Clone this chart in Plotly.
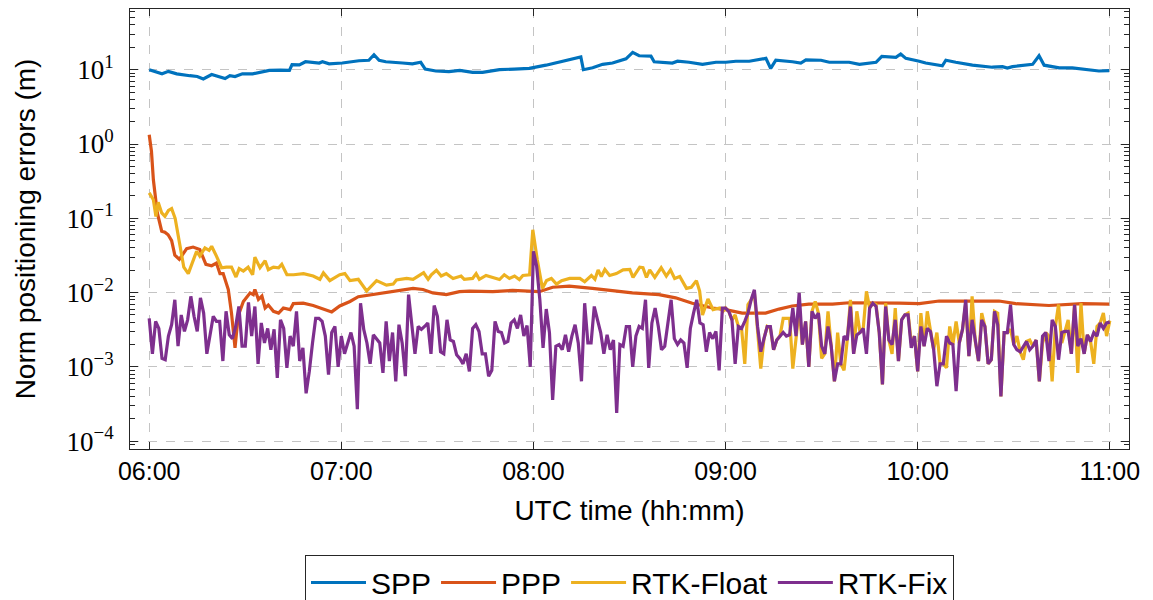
import pandas as pd
import plotly.graph_objects as go

# ---------------- data (minutes after 06:00 UTC, error in metres) ----------------
spp_t = [0, 2, 4, 6, 8.6, 12.7, 15, 16.9, 19.5, 23.7, 25.2, 26.8, 29.1, 32.3, 35, 37.5, 41, 43.8,
         44.6, 46.9, 48.8, 53.1, 54.1, 56.2, 60.3, 63, 65.5, 68.6, 70.2, 71.8, 73.9, 79.1, 82.2,
         84.8, 86.2, 89.5, 93.6, 97, 101, 104.1, 109.4, 114, 118.7, 123.9, 128.1, 132.2, 134.8,
         135.6, 138.5, 141.6, 144.7, 148.9, 151, 153, 156.7, 157.7, 163.4, 165, 168.6, 172.8, 177,
         180.1, 183.2, 187.4, 192.6, 194.1, 195.7, 200.9, 203.5, 205.1, 209.8, 212.4, 218.6, 221.8,
         227, 228.8, 233.2, 234.7, 236.3, 240.5, 242.5, 247.7, 248.8, 251.9, 257.1, 263.3, 266.5,
         268, 269.6, 275.9, 277.9, 279.5, 284.2, 288.3, 292.5, 296.6, 299.8]
spp_v = [10.0, 9.3, 8.8, 9.5, 8.8, 8.3, 8.1, 7.5, 8.6, 7.6, 8.3, 8.1, 8.8, 8.8, 9.3, 9.8, 9.9, 9.8,
         11.7, 11.6, 12.8, 12.3, 12.8, 12.0, 12.3, 12.8, 13.2, 13.4, 15.9, 13.4, 12.8, 12.3, 12.0,
         12.6, 10.2, 9.6, 9.4, 9.8, 9.2, 9.2, 10.0, 10.2, 10.4, 11.5, 12.8, 14.2, 14.8,
         10.0, 10.6, 11.8, 12.3, 14.0, 17.1, 15.4, 15.2, 12.8, 12.3, 13.0, 12.6, 11.8, 12.6,
         12.6, 13.0, 13.0, 14.2, 10.4, 13.4, 12.8, 12.3, 13.6, 13.4, 12.6, 12.6, 11.8,
         12.6, 15.1, 14.7, 16.3, 14.2, 13.0, 12.3, 11.3, 13.4, 12.6, 11.5, 10.8, 11.0,
         10.5, 11.0, 11.8, 15.4, 11.5, 10.6, 10.6, 10.2, 9.6, 9.7]

ppp_t = [0, 0.7, 1.3, 2.5, 3.9, 4.9, 5.9, 7.0, 8.0, 9.4, 11.7, 13.7, 15.8, 17.7, 19.5, 21.0, 22.1,
         23.1, 24.7, 25.7, 26.8, 27.8, 29.4, 31.5, 32.5, 33, 34.1, 35.2, 36.2, 37.2, 38.8, 40.4,
         41.9, 44, 45, 48.1, 51.2, 54.3, 57, 59.5, 62.7, 65.3, 69.9, 74.1, 78.2, 82.4, 85.5, 88.6,
         92.8, 96.9, 100, 107.3, 113.5, 121.8, 126, 131.2, 138.4, 144.7, 150.9, 159.2, 164.4,
         169.6, 175.9, 180, 185.2, 192.5, 196.7, 200.8, 206, 213.4, 218.6, 234.2, 240.5, 246.7,
         257.1, 265.4, 270.6, 281, 291.4, 299.8]
ppp_v = [1.33, 0.8, 0.33, 0.12, 0.067, 0.065, 0.060, 0.050, 0.032, 0.028, 0.039, 0.041, 0.038,
         0.024, 0.023, 0.025, 0.018, 0.018, 0.011, 0.0053, 0.0018, 0.0049, 0.0076, 0.0099, 0.0094,
         0.011, 0.0081, 0.009, 0.0062, 0.0068, 0.0056, 0.0053, 0.0062, 0.0059, 0.0071, 0.0072,
         0.0067, 0.006, 0.0055, 0.0066, 0.0076, 0.0088, 0.0094, 0.0100, 0.0107, 0.0114, 0.011,
         0.0099, 0.0094, 0.0103, 0.0105, 0.0103, 0.0107, 0.0103, 0.0118, 0.0122, 0.0114, 0.0107,
         0.0099, 0.0094, 0.0085, 0.0072, 0.0062, 0.0059, 0.0053, 0.0053, 0.006, 0.0066, 0.0070,
         0.0070, 0.0073, 0.0072, 0.0071, 0.0077, 0.0078, 0.0077, 0.0071, 0.0067, 0.0071, 0.0070]

float_t = [0, 1.3, 2.1, 2.8, 3.9, 4.9, 6.0, 7.0, 8.1, 9.6, 10.8, 12.2, 13.2, 14.8, 15.8, 17.4, 18.7,
           19.5, 21.0, 22.6, 24.1, 25.7, 27.1, 28.1, 29.4, 30.9, 32.3, 33.0, 34.6, 36.2, 37.2, 38.8,
           40.4, 41.4, 43.0, 45.1, 48.2, 51.2, 53.3, 54.4, 56.4, 59.5, 61.1, 62.7, 65.3, 67.9, 71.0,
           74.1, 76.2, 77.2, 80.4, 82.4, 84.0, 85.7, 87.1, 88.1, 89.7, 91.2, 92.8, 94.9, 97.4, 98.4,
           101.0, 102.1, 103.1, 105.2, 107.3, 109.4, 110.9, 112.5, 114.1, 115.6, 116.7, 118.8,
           119.8, 121.2, 122.8, 124.1, 125.6, 127.2, 128.8, 131.3, 134.5, 136.0, 138.1, 139.2,
           140.2, 141.2, 142.3, 143.8, 145.9, 148.0, 150.1, 151.1, 153.2, 154.2, 155.3, 156.3,
           157.9, 159.9, 161.5, 162.8, 164.1, 165.7, 167.8, 169.3, 170.9, 171.9, 172.8, 174.5,
           176.1, 178.2, 179.2] + list(range(180, 301))
float_v = [0.22, 0.178, 0.106, 0.165, 0.118, 0.106, 0.128, 0.135, 0.10, 0.046, 0.022, 0.018, 0.024,
           0.036, 0.031, 0.040, 0.037, 0.042, 0.031, 0.0216, 0.022, 0.022, 0.0162, 0.021, 0.0195,
           0.022, 0.0174, 0.030, 0.0216, 0.0268, 0.0203, 0.022, 0.0216, 0.024, 0.0174, 0.0174,
           0.018, 0.0167, 0.0151, 0.0184, 0.0145, 0.0174, 0.018, 0.0145, 0.0151, 0.0105, 0.0145,
           0.0126, 0.013, 0.0148, 0.0155, 0.0151, 0.0167, 0.0185, 0.0151, 0.0174, 0.020, 0.0167,
           0.018, 0.0155, 0.0167, 0.0151, 0.0155, 0.018, 0.0151, 0.017, 0.016, 0.015, 0.0174,
           0.0155, 0.0167, 0.015, 0.017, 0.0174, 0.07, 0.0276, 0.0114, 0.0145, 0.0155, 0.013,
           0.0145, 0.0155, 0.0155, 0.014, 0.017, 0.0151, 0.0202, 0.0165, 0.0205, 0.017, 0.018,
           0.0202, 0.0205, 0.016, 0.022, 0.0216, 0.016, 0.0202, 0.016, 0.0216, 0.0167, 0.0202,
           0.0155, 0.0165, 0.0114, 0.0118, 0.0145, 0.0105, 0.005, 0.0082, 0.0059, 0.0062, 0.0056,
           # 180 .. 300, one per minute
           0.0062, 0.0056, 0.0043, 0.0050, 0.0035, 0.0033, 0.0011, 0.0069, 0.0080, 0.0100,
           0.0035, 0.00095, 0.0024, 0.0035, 0.0033, 0.0017, 0.0023, 0.0026, 0.0045, 0.0045,
           0.0045, 0.00095, 0.0026, 0.0060, 0.0020, 0.0041, 0.0010, 0.0056, 0.0076, 0.0053,
           0.0013, 0.0015, 0.0056, 0.0019, 0.00064, 0.0029, 0.0011, 0.0009, 0.0023, 0.0080,
           0.0015, 0.0056, 0.0029, 0.0033, 0.0104, 0.0062, 0.0072, 0.0069, 0.0029, 0.00058,
           0.0072, 0.0023, 0.0015, 0.0062, 0.0012, 0.0043, 0.0050, 0.0053, 0.0021, 0.0026,
           0.00087, 0.0053, 0.0019, 0.0056, 0.0030, 0.0017, 0.0029, 0.0011, 0.0011, 0.00097,
           0.0035, 0.0020, 0.0041, 0.0021, 0.0032, 0.0072, 0.0014, 0.0089, 0.0022, 0.0012,
           0.0053, 0.0035, 0.0011, 0.00125, 0.0056, 0.0053, 0.00040, 0.0029, 0.0029, 0.0032,
           0.0020, 0.0026, 0.0016, 0.00125, 0.0022, 0.0023, 0.0019, 0.0023, 0.00064, 0.0021,
           0.0029, 0.0026, 0.00064, 0.0035, 0.0069, 0.0021, 0.0030, 0.0043, 0.0015, 0.0069,
           0.00083, 0.0072, 0.0015, 0.0027, 0.0022, 0.0011, 0.0035, 0.0039, 0.0053, 0.0026,
           0.0042]

fix_t = list(range(0, 301))
fix_v = [0.0045, 0.0015, 0.0041, 0.0033, 0.0013, 0.00125, 0.0026, 0.0037, 0.0080, 0.0019,
         0.0050, 0.0030, 0.0043, 0.0089, 0.0048, 0.0030, 0.0085, 0.0053, 0.0015, 0.0026,
         0.0048, 0.0041, 0.0041, 0.0012, 0.0056, 0.0027, 0.0024, 0.0035, 0.0065, 0.0019,
         0.0019, 0.0074, 0.0026, 0.0065, 0.0011, 0.0039, 0.0021, 0.0033, 0.0017, 0.0032,
         0.00071, 0.0043, 0.0033, 0.00097, 0.0026, 0.0019, 0.0056, 0.0012, 0.0018, 0.00044,
         0.00087, 0.0021, 0.0045, 0.0045, 0.0041, 0.0026, 0.00079, 0.0029, 0.0035, 0.0010,
         0.0026, 0.0015, 0.0021, 0.0029, 0.0019, 0.00027, 0.0072, 0.0032, 0.0021, 0.0011,
         0.0027, 0.0024, 0.0021, 0.00083, 0.0041, 0.0012, 0.0029, 0.00064, 0.0037, 0.0021,
         0.00075, 0.0094, 0.0035, 0.0015, 0.0035, 0.0032, 0.0035, 0.0039, 0.0015, 0.0067,
         0.0048, 0.0016, 0.0015, 0.0043, 0.0023, 0.0022, 0.00146, 0.0013, 0.0011, 0.0015,
         0.00087, 0.0033, 0.0037, 0.0030, 0.0015, 0.0015, 0.00075, 0.0009, 0.0041, 0.0030,
         0.0029, 0.0021, 0.0022, 0.0039, 0.0043, 0.0033, 0.0050, 0.0026, 0.0036, 0.0010,
         0.036, 0.0226, 0.0080, 0.0018, 0.0060, 0.0029, 0.00036, 0.0019, 0.0020, 0.0017,
         0.0027, 0.0016, 0.0026, 0.0037, 0.0021, 0.00064, 0.0072, 0.0021, 0.0021, 0.0065,
         0.0043, 0.0029, 0.0015, 0.0027, 0.0017, 0.0023, 0.00024, 0.0020, 0.0019, 0.0035,
         0.0035, 0.0010, 0.0026, 0.0035, 0.0033, 0.0080, 0.00097, 0.0039, 0.0062, 0.0035,
         0.0017, 0.0019, 0.0039, 0.0080, 0.0024, 0.0020, 0.0023, 0.0021, 0.00097, 0.0033,
         0.0053, 0.0080, 0.0039, 0.0037, 0.0016, 0.0029, 0.0024, 0.0030, 0.0009, 0.0062,
         0.0062, 0.0056, 0.0043, 0.0011, 0.0035, 0.0033, 0.0041, 0.0053, 0.0080, 0.0109,
         0.0035, 0.0016, 0.0024, 0.0035, 0.0035, 0.0017, 0.0023, 0.0026, 0.0029, 0.0026,
         0.0027, 0.0062, 0.0026, 0.0099, 0.0020, 0.0041, 0.0010, 0.0056, 0.0045, 0.0053,
         0.0019, 0.0015, 0.0035, 0.0019, 0.00064, 0.0011, 0.0011, 0.0026, 0.0023, 0.0065,
         0.0015, 0.0027, 0.0029, 0.0033, 0.0015, 0.0062, 0.0072, 0.0065, 0.0029, 0.00058,
         0.0065, 0.0023, 0.0020, 0.0043, 0.0012, 0.0043, 0.0050, 0.0050, 0.0018, 0.0026,
         0.00087, 0.0035, 0.0019, 0.0033, 0.0030, 0.0017, 0.00055, 0.0011, 0.0011, 0.0026,
         0.0021, 0.0020, 0.00047, 0.0021, 0.0032, 0.0080, 0.0014, 0.0043, 0.0022, 0.0012,
         0.0043, 0.0035, 0.0011, 0.00125, 0.0056, 0.0037, 0.00040, 0.0029, 0.0029, 0.0069,
         0.0020, 0.0017, 0.0016, 0.0019, 0.0022, 0.0017, 0.0019, 0.0023, 0.00064, 0.0026,
         0.0029, 0.0012, 0.0043, 0.0035, 0.00125, 0.0029, 0.0030, 0.0030, 0.0015, 0.0069,
         0.0019, 0.0024, 0.0015, 0.0027, 0.0022, 0.0029, 0.0026, 0.0039, 0.0033, 0.0039,
         0.0040]

series_names = ["SPP", "PPP", "RTK-Float", "RTK-Fix"]
series_colors = ["#0072BD", "#D95319", "#EDB120", "#7E2F8E"]

y_tick_vals = [1e-4, 1e-3, 1e-2, 1e-1, 1e0, 1e1]
y_tick_text = ["10<sup>\u22124</sup>", "10<sup>\u22123</sup>", "10<sup>\u22122</sup>",
               "10<sup>\u22121</sup>", "10<sup>0</sup>", "10<sup>1</sup>"]
y_minor_vals = [m * d for d in [1e-5, 1e-4, 1e-3, 1e-2, 1e-1, 1e0, 1e1] for m in range(2, 10)]

# ---------------- figure ----------------
base = pd.Timestamp("2000-01-01 06:00:00")


def to_time(minutes):
    return base + pd.to_timedelta(pd.Series(minutes, dtype=float), unit="min")


fig = go.Figure()
for name, color, t, v in zip(series_names, series_colors,
                             [spp_t, ppp_t, float_t, fix_t],
                             [spp_v, ppp_v, float_v, fix_v]):
    fig.add_trace(go.Scatter(x=to_time(t), y=v, mode="lines", name=name,
                             line=dict(color=color, width=3.2)))

axis_col = "#262626"
grid_col = "#c4c4c4"

fig.update_xaxes(
    type="date", automargin=False,
    range=[base - pd.Timedelta(minutes=6), base + pd.Timedelta(minutes=306)],
    tick0=base, dtick=3600000, tickformat="%H:%M",
    showgrid=True, gridcolor=grid_col, griddash="dash", gridwidth=1,
    zeroline=False,
    showline=True, linecolor=axis_col, linewidth=1, mirror="ticks",
    ticks="inside", ticklen=7, tickcolor=axis_col,
    tickfont=dict(family="Liberation Sans", size=25, color="black"),
    ticklabelstandoff=0,
    title=dict(text="UTC time (hh:mm)", font=dict(family="Liberation Sans", size=28, color="black"),
               standoff=16),
)
fig.update_yaxes(
    type="log", automargin=False, range=[-4.105, 1.817],
    tickmode="array", tickvals=y_tick_vals, ticktext=y_tick_text,
    showgrid=True, gridcolor=grid_col, griddash="dash", gridwidth=1,
    zeroline=False,
    showline=True, linecolor=axis_col, linewidth=1, mirror="ticks",
    ticks="inside", ticklen=8, tickcolor=axis_col,
    minor=dict(ticks="inside", ticklen=5, tickcolor=axis_col, showgrid=False,
               tickmode="array", tickvals=y_minor_vals),
    tickfont=dict(family="Liberation Serif", size=27, color="black"),
    ticklabelstandoff=10,
    title=dict(text="Norm positioning errors (m)",
               font=dict(family="Liberation Sans", size=28, color="black"), standoff=22),
)

fig.update_layout(
    width=1153, height=600,
    margin=dict(l=130, r=24, t=9, b=151, autoexpand=False),
    plot_bgcolor="white", paper_bgcolor="white",
    showlegend=True,
    legend=dict(orientation="h", x=0.5, xanchor="center", y=-0.242, yanchor="top",
                bordercolor="#262626", borderwidth=1, bgcolor="white",
                font=dict(family="Liberation Sans", size=30, color="black"),
                itemwidth=55, tracegroupgap=0),
)

fig.write_html("out.html", config={"displayModeBar": False},
               post_script="document.body.style.margin='0';")
